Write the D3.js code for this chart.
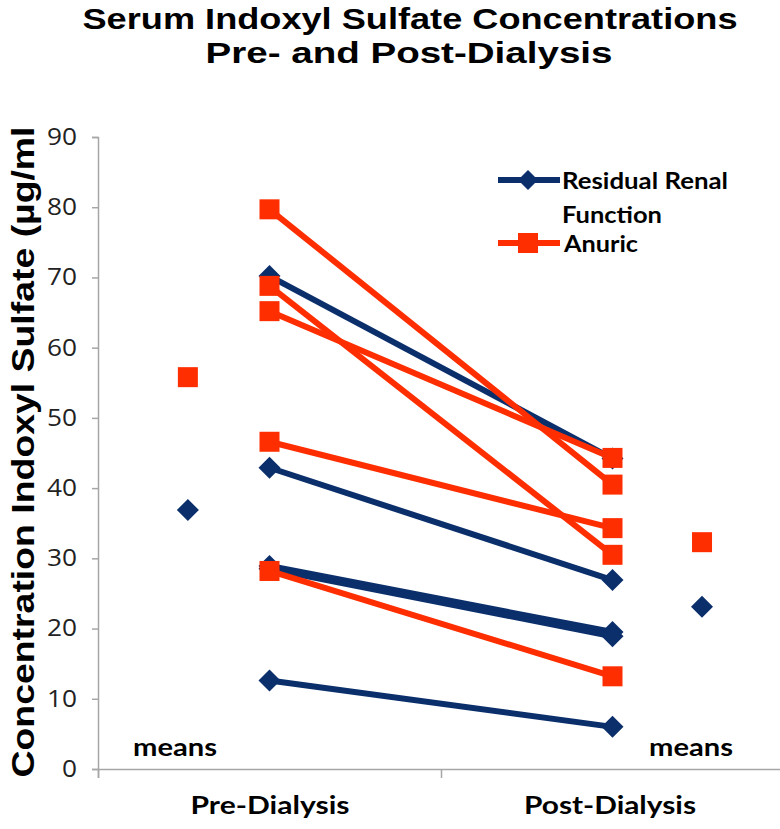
<!DOCTYPE html>
<html>
<head>
<meta charset="utf-8">
<script src="https://cdn.jsdelivr.net/npm/d3@7"></script>
<style>
  html, body { margin: 0; padding: 0; background: #fff; }
  svg { display: block; }
</style>
</head>
<body>
<svg id="chart" width="780" height="829"></svg>
<script>
// ---- data ----
const categories = ["Pre-Dialysis", "Post-Dialysis"];
const yTicks = [0, 10, 20, 30, 40, 50, 60, 70, 80, 90];

// Residual renal function (blue diamonds): pre -> post pairs
const residualPre  = [70.2, 42.9, 28.9, 28.5, 12.6];
const residualPost = [44.2, 26.9, 19.5, 18.9, 6.0];
// Anuric (red squares): pre -> post pairs
const anuricPre  = [79.7, 68.8, 65.2, 46.6, 28.2];
const anuricPost = [40.5, 30.5, 44.3, 34.3, 13.2];

// group means
const meanLabels   = ["means", "means"];
const residualMean = [36.9, 23.1];
const anuricMean   = [55.8, 32.3];
const meanPos      = [0.262, 1.761];   // position along the category axis
const catPos       = [0.5, 1.5];

// ---- layout ----
const svg = d3.select("#chart");
const blue = "#0B2F6B", red = "#FF2E00", axisCol = "#A6A6A6";
const x0 = 98, x1 = 784, yTop = 137, yBot = 769;

const x = d3.scaleLinear().domain([0, 2]).range([x0, x1]);
const y = d3.scaleLinear().domain([0, 90]).range([yBot, yTop]);

const titleFont = "Liberation Sans, Arial, sans-serif";
const labelFont = "Lato, sans-serif";

// title
svg.append("text")
  .attr("x", 410).attr("y", 29)
  .attr("text-anchor", "middle")
  .attr("font-family", titleFont)
  .attr("font-weight", "bold").attr("font-size", 30)
  .attr("textLength", 655).attr("lengthAdjust", "spacingAndGlyphs")
  .text("Serum Indoxyl Sulfate Concentrations");
svg.append("text")
  .attr("x", 409).attr("y", 63)
  .attr("text-anchor", "middle")
  .attr("font-family", titleFont)
  .attr("font-weight", "bold").attr("font-size", 30)
  .attr("textLength", 407).attr("lengthAdjust", "spacingAndGlyphs")
  .text("Pre- and Post-Dialysis");

// y axis title
svg.append("text")
  .attr("transform", `translate(34,452) rotate(-90)`)
  .attr("text-anchor", "middle")
  .attr("font-family", titleFont)
  .attr("font-weight", "bold").attr("font-size", 31)
  .attr("textLength", 651).attr("lengthAdjust", "spacingAndGlyphs")
  .text("Concentration Indoxyl Sulfate (µg/ml");

// y axis
const yAxis = d3.axisLeft(y).tickValues(yTicks).tickSize(6).tickPadding(15);
const gy = svg.append("g").attr("transform", `translate(${x0},0)`).call(yAxis);
gy.select(".domain").attr("stroke", axisCol).attr("stroke-width", 1.5);
gy.selectAll(".tick line").attr("stroke", axisCol).attr("stroke-width", 1.5);
gy.selectAll(".tick text")
  .attr("font-family", "Open Sans, sans-serif")
  .attr("font-size", 23).attr("fill", "#222")
  .attr("textLength", d => String(d).length * 15)
  .attr("lengthAdjust", "spacingAndGlyphs");

// x axis (category axis)
const xAxis = d3.axisBottom(x).tickValues([0, 1, 2]).tickSize(9).tickFormat("");
const gx = svg.append("g").attr("transform", `translate(0,${yBot})`).call(xAxis);
gx.select(".domain").attr("stroke", axisCol).attr("stroke-width", 1.5);
gx.selectAll(".tick line").attr("stroke", axisCol).attr("stroke-width", 1.5);

const catWidths = [159, 172];
const catCenters = [270, 610];
svg.selectAll(".catlabel").data(categories).enter().append("text")
  .attr("class", "catlabel")
  .attr("x", (d, i) => catCenters[i])
  .attr("y", 814)
  .attr("text-anchor", "middle")
  .attr("font-family", labelFont)
  .attr("font-weight", "bold").attr("font-size", 25)
  .attr("textLength", (d, i) => catWidths[i]).attr("lengthAdjust", "spacingAndGlyphs")
  .text(d => d);

// "means" labels
svg.selectAll(".meanlabel").data(meanLabels).enter().append("text")
  .attr("class", "meanlabel")
  .attr("x", (d, i) => [175, 691][i])
  .attr("y", 756)
  .attr("text-anchor", "middle")
  .attr("font-family", labelFont)
  .attr("font-weight", "bold").attr("font-size", 25)
  .attr("textLength", 84).attr("lengthAdjust", "spacingAndGlyphs")
  .text(d => d);

// markers
const diamond = (g, cx, cy, r) => g.append("path")
  .attr("d", `M${cx},${cy - r}L${cx + r},${cy}L${cx},${cy + r}L${cx - r},${cy}Z`)
  .attr("fill", blue);
const square = (g, cx, cy, s) => g.append("rect")
  .attr("x", cx - s / 2).attr("y", cy - s / 2)
  .attr("width", s).attr("height", s).attr("fill", red);

const plot = svg.append("g");
// blue series
residualPre.forEach((v, i) => {
  const g = plot.append("g");
  g.append("line")
    .attr("x1", x(catPos[0])).attr("y1", y(v))
    .attr("x2", x(catPos[1])).attr("y2", y(residualPost[i]))
    .attr("stroke", blue).attr("stroke-width", 6);
  diamond(g, x(catPos[0]), y(v), 11);
  diamond(g, x(catPos[1]), y(residualPost[i]), 11);
});
// red series
anuricPre.forEach((v, i) => {
  const g = plot.append("g");
  g.append("line")
    .attr("x1", x(catPos[0])).attr("y1", y(v))
    .attr("x2", x(catPos[1])).attr("y2", y(anuricPost[i]))
    .attr("stroke", red).attr("stroke-width", 6);
  square(g, x(catPos[0]), y(v), 20);
  square(g, x(catPos[1]), y(anuricPost[i]), 20);
});
// means
residualMean.forEach((v, i) => diamond(plot, x(meanPos[i]), y(v), 11));
anuricMean.forEach((v, i) => square(plot, x(meanPos[i]), y(v), 20));

// legend
const lg = svg.append("g");
const legText = (tx, ty, s, w) => lg.append("text").attr("x", tx).attr("y", ty)
  .attr("font-family", labelFont).attr("font-weight", "bold").attr("font-size", 22)
  .attr("textLength", w).attr("lengthAdjust", "spacingAndGlyphs")
  .text(s);
lg.append("line").attr("x1", 498).attr("x2", 560).attr("y1", 180).attr("y2", 180)
  .attr("stroke", blue).attr("stroke-width", 6);
diamond(lg, 528, 180, 10);
legText(562, 189, "Residual Renal", 166);
legText(562, 223, "Function", 100);
lg.append("line").attr("x1", 498).attr("x2", 560).attr("y1", 243).attr("y2", 243)
  .attr("stroke", red).attr("stroke-width", 6);
square(lg, 528, 243, 20);
legText(564, 252, "Anuric", 74);
</script>
</body>
</html>
